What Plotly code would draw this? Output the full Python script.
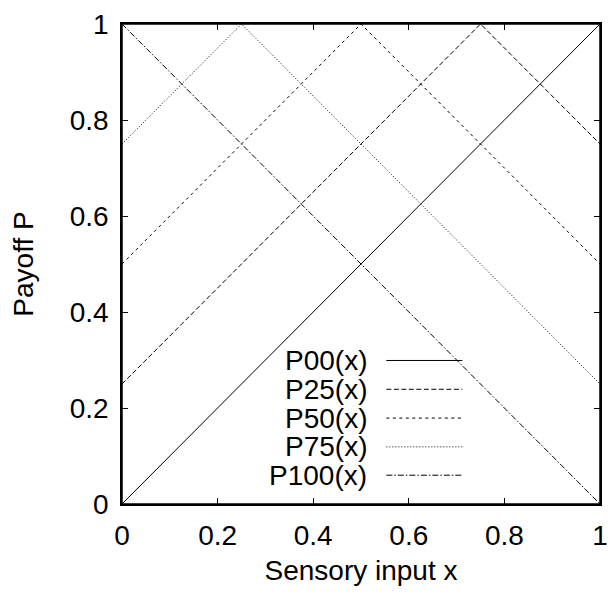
import plotly.graph_objects as go

x_pts = [0, 0.25, 0.5, 0.75, 1]
series_names = ["P00(x)", "P25(x)", "P50(x)", "P75(x)", "P100(x)"]
P00 = [0, 0.25, 0.5, 0.75, 1]
P25 = [0.25, 0.5, 0.75, 1, 0.75]
P50 = [0.5, 0.75, 1, 0.75, 0.5]
P75 = [0.75, 1, 0.75, 0.5, 0.25]
P100 = [1, 0.75, 0.5, 0.25, 0]
tick_vals = [0, 0.2, 0.4, 0.6, 0.8, 1]
tick_text = ["0", "0.2", "0.4", "0.6", "0.8", "1"]

series = [P00, P25, P50, P75, P100]
dashes = ["solid", "5px,2.5px", "3px,3.5px", "1px,2px", "6px,2px,1.5px,2px"]

FONT = "Liberation Sans, Arial, sans-serif"
FS = 28
fig = go.Figure()
for name, ys, d in zip(series_names, series, dashes):
    fig.add_trace(go.Scatter(x=x_pts, y=ys, mode="lines", name=name,
                             line=dict(color="black", width=1, dash=d),
                             showlegend=False, hoverinfo="skip"))

# manual gnuplot-style legend
leg_y = [0.299, 0.239, 0.179, 0.119, 0.060]
for name, yy, d in zip(series_names, leg_y, dashes):
    fig.add_annotation(x=0.516, y=yy, xref="paper", yref="paper", text=name,
                       showarrow=False, xanchor="right", yanchor="middle",
                       font=dict(family=FONT, size=FS, color="black"))
    fig.add_shape(type="line", xref="paper", yref="paper",
                  x0=0.553, x1=0.712, y0=yy, y1=yy,
                  line=dict(color="black", width=1, dash=d))

# plot frame
fig.add_shape(type="rect", xref="paper", yref="paper", x0=0, x1=1, y0=0, y1=1,
              line=dict(color="#000000", width=1.5), fillcolor="rgba(0,0,0,0)",
              layer="above")

axis_common = dict(range=[0, 1], tickvals=tick_vals, ticktext=tick_text,
                   ticks="inside", ticklen=6, tickcolor="black", tickwidth=1,
                   showline=True, linecolor="black", linewidth=1.5,
                   mirror="allticks", showgrid=False, zeroline=False,
                   automargin=False, ticklabeloverflow="allow",
                   tickfont=dict(family=FONT, size=FS, color="black"))

fig.update_layout(
    width=600, height=578,
    margin=dict(l=114, r=8, t=16, b=82),
    plot_bgcolor="white", paper_bgcolor="white",
    font=dict(family=FONT, size=FS, color="black"),
    xaxis=dict(**axis_common, ticklabelstandoff=6,
               title=dict(text="Sensory input x", font=dict(family=FONT, size=FS), standoff=29)),
    yaxis=dict(**axis_common, ticklabelstandoff=6,
               title=dict(text="Payoff P", font=dict(family=FONT, size=FS), standoff=28)),
)
fig.write_html("out.html")
